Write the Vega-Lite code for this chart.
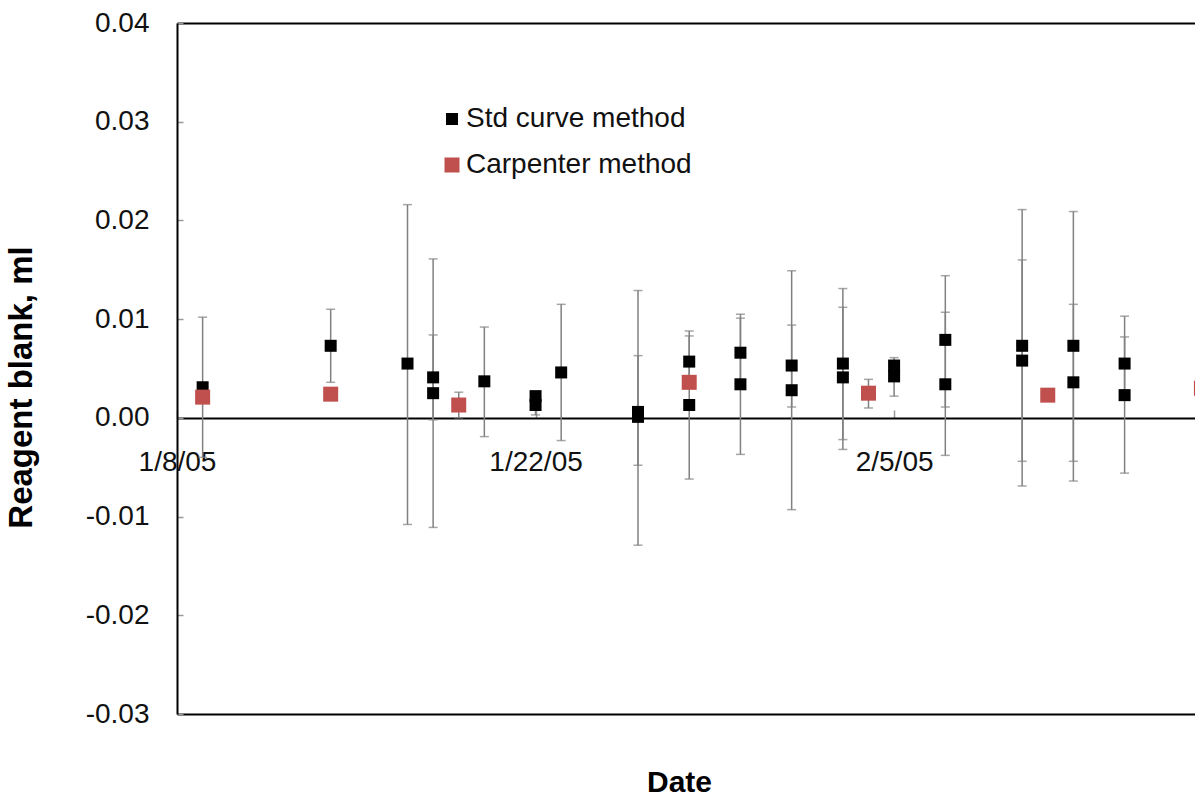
{
  "$schema": "https://vega.github.io/schema/vega-lite/v6.json",
  "width": 1018,
  "height": 691,
  "autosize": {"type": "none"},
  "padding": {"left": 177, "top": 23, "right": 0, "bottom": 83},
  "background": "white",
  "config": {
    "view": {"stroke": null},
    "font": "Liberation Sans",
    "axis": {
      "labelFont": "Liberation Sans",
      "titleFont": "Liberation Sans",
      "labelColor": "#111",
      "titleColor": "#000",
      "labelFontSize": 28,
      "titleFontWeight": "bold",
      "domainColor": "#000",
      "domainWidth": 2,
      "tickColor": "#999",
      "tickWidth": 1.5,
      "grid": false
    }
  },
  "datasets": {
    "points": [
      {"date": "2005-01-09", "value": 0.0031, "method": "Std curve method"},
      {"date": "2005-01-14", "value": 0.0073, "method": "Std curve method"},
      {"date": "2005-01-17", "value": 0.0055, "method": "Std curve method"},
      {"date": "2005-01-18", "value": 0.0041, "method": "Std curve method"},
      {"date": "2005-01-18", "value": 0.0025, "method": "Std curve method"},
      {"date": "2005-01-20", "value": 0.0037, "method": "Std curve method"},
      {"date": "2005-01-22", "value": 0.0022, "method": "Std curve method"},
      {"date": "2005-01-22", "value": 0.0013, "method": "Std curve method"},
      {"date": "2005-01-23", "value": 0.0046, "method": "Std curve method"},
      {"date": "2005-01-26", "value": 0.0006, "method": "Std curve method"},
      {"date": "2005-01-26", "value": 0.0001, "method": "Std curve method"},
      {"date": "2005-01-28", "value": 0.0057, "method": "Std curve method"},
      {"date": "2005-01-28", "value": 0.0013, "method": "Std curve method"},
      {"date": "2005-01-30", "value": 0.0066, "method": "Std curve method"},
      {"date": "2005-01-30", "value": 0.0034, "method": "Std curve method"},
      {"date": "2005-02-01", "value": 0.0053, "method": "Std curve method"},
      {"date": "2005-02-01", "value": 0.0028, "method": "Std curve method"},
      {"date": "2005-02-03", "value": 0.0055, "method": "Std curve method"},
      {"date": "2005-02-03", "value": 0.0041, "method": "Std curve method"},
      {"date": "2005-02-05", "value": 0.0053, "method": "Std curve method"},
      {"date": "2005-02-05", "value": 0.0042, "method": "Std curve method"},
      {"date": "2005-02-07", "value": 0.0079, "method": "Std curve method"},
      {"date": "2005-02-07", "value": 0.0034, "method": "Std curve method"},
      {"date": "2005-02-10", "value": 0.0073, "method": "Std curve method"},
      {"date": "2005-02-10", "value": 0.0058, "method": "Std curve method"},
      {"date": "2005-02-12", "value": 0.0073, "method": "Std curve method"},
      {"date": "2005-02-12", "value": 0.0036, "method": "Std curve method"},
      {"date": "2005-02-14", "value": 0.0055, "method": "Std curve method"},
      {"date": "2005-02-14", "value": 0.0023, "method": "Std curve method"},
      {"date": "2005-01-09", "value": 0.0021, "method": "Carpenter method"},
      {"date": "2005-01-14", "value": 0.0024, "method": "Carpenter method"},
      {"date": "2005-01-19", "value": 0.0013, "method": "Carpenter method"},
      {"date": "2005-01-28", "value": 0.0036, "method": "Carpenter method"},
      {"date": "2005-02-04", "value": 0.0025, "method": "Carpenter method"},
      {"date": "2005-02-11", "value": 0.0023, "method": "Carpenter method"},
      {"date": "2005-02-17", "value": 0.0030, "method": "Carpenter method"}
    ],
    "errors": [
      {"date": "2005-01-09", "low": -0.0040, "high": 0.0102},
      {"date": "2005-01-14", "low": 0.0036, "high": 0.0110},
      {"date": "2005-01-17", "low": -0.0108, "high": 0.0216},
      {"date": "2005-01-18", "low": -0.0111, "high": 0.0161},
      {"date": "2005-01-18", "low": -0.0002, "high": 0.0084},
      {"date": "2005-01-19", "low": 0.0000, "high": 0.0026},
      {"date": "2005-01-20", "low": -0.0019, "high": 0.0092},
      {"date": "2005-01-22", "low": 0.0003, "high": 0.0023},
      {"date": "2005-01-23", "low": -0.0023, "high": 0.0115},
      {"date": "2005-01-26", "low": -0.0129, "high": 0.0129},
      {"date": "2005-01-26", "low": -0.0048, "high": 0.0063},
      {"date": "2005-01-28", "low": -0.0062, "high": 0.0088},
      {"date": "2005-01-28", "low": 0.0031, "high": 0.0083},
      {"date": "2005-01-30", "low": -0.0037, "high": 0.0105},
      {"date": "2005-01-30", "low": 0.0031, "high": 0.0101},
      {"date": "2005-02-01", "low": -0.0093, "high": 0.0149},
      {"date": "2005-02-01", "low": 0.0011, "high": 0.0094},
      {"date": "2005-02-03", "low": -0.0022, "high": 0.0131},
      {"date": "2005-02-03", "low": -0.0032, "high": 0.0112},
      {"date": "2005-02-04", "low": 0.0010, "high": 0.0039},
      {"date": "2005-02-05", "low": 0.0022, "high": 0.0061},
      {"date": "2005-02-07", "low": -0.0038, "high": 0.0107},
      {"date": "2005-02-07", "low": 0.0011, "high": 0.0144},
      {"date": "2005-02-10", "low": -0.0069, "high": 0.0211},
      {"date": "2005-02-10", "low": -0.0044, "high": 0.0160},
      {"date": "2005-02-12", "low": -0.0064, "high": 0.0209},
      {"date": "2005-02-12", "low": -0.0044, "high": 0.0115},
      {"date": "2005-02-14", "low": -0.0056, "high": 0.0103},
      {"date": "2005-02-14", "low": 0.0028, "high": 0.0082},
      {"date": "2005-02-17", "low": 0.0017, "high": 0.0045}
    ]
  },
  "layer": [
    {
      "data": {"name": "errors"},
      "mark": {"type": "errorbar", "color": "#808080", "thickness": 1.5, "ticks": {"size": 9}},
      "encoding": {
        "x": {
          "field": "date", "type": "temporal",
          "scale": {"type": "utc", "domain": [{"year": 2005, "month": 1, "date": 7, "hours": 23, "minutes": 59, "utc": true}, {"year": 2005, "month": 2, "date": 16, "hours": 17, "minutes": 59, "utc": true}]},
          "axis": {
            "values": [{"year": 2005, "month": 1, "date": 8, "utc": true}, {"year": 2005, "month": 1, "date": 22, "utc": true}, {"year": 2005, "month": 2, "date": 5, "utc": true}],
            "labelExpr": "utcFormat(datum.value, '%-m/%-d/%y')",
            "offset": -296, "tickSize": -8, "labelPadding": 38,
            "labelFlush": false, "labelOverlap": false,
            "title": "Date", "titleFontSize": 30, "titleX": 502, "titleY": 349, "titleAlign": "center", "titleBaseline": "top"
          }
        },
        "y": {
          "field": "low", "type": "quantitative",
          "scale": {"domain": [-0.03, 0.04], "nice": false, "zero": false},
          "axis": {
            "values": [-0.03, -0.02, -0.01, 0, 0.01, 0.02, 0.03, 0.04],
            "format": ".2f", "labelExpr": "replace(datum.label, '\u2212', '-')",
            "tickSize": -6, "labelPadding": 34,
            "grid": true, "gridWidth": 2,
            "gridColor": {"condition": {"test": "datum.value === 0.04 || datum.value === -0.03", "value": "#000"}, "value": "transparent"},
            "title": "Reagent blank, ml", "titleFontSize": 33, "titleX": -139, "titleY": 364, "titleAngle": 270, "titleAlign": "center", "titleBaseline": "bottom"
          }
        },
        "y2": {"field": "high"}
      }
    },
    {
      "data": {"name": "points"},
      "mark": {"type": "point", "shape": "square", "filled": true, "opacity": 1, "strokeWidth": 0},
      "encoding": {
        "x": {
          "field": "date", "type": "temporal",
          "scale": {"type": "utc", "domain": [{"year": 2005, "month": 1, "date": 7, "hours": 23, "minutes": 59, "utc": true}, {"year": 2005, "month": 2, "date": 16, "hours": 17, "minutes": 59, "utc": true}]},
          "axis": {
            "values": [{"year": 2005, "month": 1, "date": 8, "utc": true}, {"year": 2005, "month": 1, "date": 22, "utc": true}, {"year": 2005, "month": 2, "date": 5, "utc": true}],
            "labelExpr": "utcFormat(datum.value, '%-m/%-d/%y')",
            "offset": -296, "tickSize": -8, "labelPadding": 38,
            "labelFlush": false, "labelOverlap": false,
            "title": "Date", "titleFontSize": 30, "titleX": 502, "titleY": 349, "titleAlign": "center", "titleBaseline": "top"
          }
        },
        "y": {
          "field": "value", "type": "quantitative",
          "scale": {"domain": [-0.03, 0.04], "nice": false, "zero": false},
          "axis": {
            "values": [-0.03, -0.02, -0.01, 0, 0.01, 0.02, 0.03, 0.04],
            "format": ".2f", "labelExpr": "replace(datum.label, '\u2212', '-')",
            "tickSize": -6, "labelPadding": 34,
            "grid": true, "gridWidth": 2,
            "gridColor": {"condition": {"test": "datum.value === 0.04 || datum.value === -0.03", "value": "#000"}, "value": "transparent"},
            "title": "Reagent blank, ml", "titleFontSize": 33, "titleX": -139, "titleY": 364, "titleAngle": 270, "titleAlign": "center", "titleBaseline": "bottom"
          }
        },
        "color": {
          "field": "method", "type": "nominal",
          "scale": {"domain": ["Std curve method", "Carpenter method"], "range": ["#000000", "#C0504D"]},
          "legend": {"orient": "none", "legendX": 261, "legendY": 82, "title": null, "labelFontSize": 28, "labelFont": "Liberation Sans", "labelColor": "#111", "labelLimit": 500, "padding": 0, "rowPadding": 18, "labelOffset": 0, "symbolType": "square", "symbolStrokeWidth": 0}
        },
        "size": {
          "field": "method", "type": "nominal",
          "scale": {"domain": ["Std curve method", "Carpenter method"], "range": [144, 225]},
          "legend": {"orient": "none", "legendX": 261, "legendY": 82, "title": null, "labelFontSize": 28, "labelFont": "Liberation Sans", "labelColor": "#111", "labelLimit": 500, "padding": 0, "rowPadding": 18, "labelOffset": 0, "symbolType": "square", "symbolStrokeWidth": 0}
        }
      }
    }
  ]
}
